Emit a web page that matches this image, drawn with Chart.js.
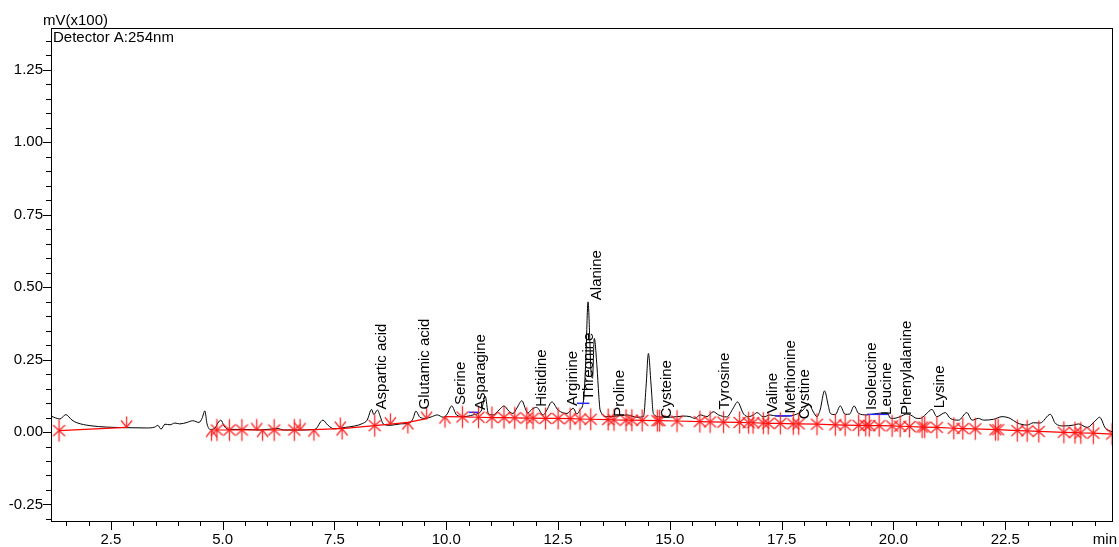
<!DOCTYPE html>
<html><head><meta charset="utf-8">
<script src="https://cdn.jsdelivr.net/npm/chart.js@4.4.1/dist/chart.umd.min.js"></script>
<style>html,body{margin:0;padding:0;background:#fff;}#wrap{width:1119px;height:547px;position:relative;}</style>
</head><body><div id="wrap"><canvas id="c" width="1119" height="547"></canvas></div>
<script>
// ---- data ----
const traceTimes = [1.16,1.36,1.49,1.63,1.74,2.03,2.41,2.86,3.30,3.48,3.55,3.62,3.71,3.82,3.93,4.04,4.20,4.33,4.47,4.54,4.60,4.65,4.72,4.83,4.89,4.96,5.03,5.12,5.50,5.83,6.24,6.35,6.73,7.06,7.24,7.35,7.49,7.74,7.96,8.12,8.23,8.33,8.38,8.46,8.52,8.59,8.74,8.97,9.19,9.26,9.32,9.41,9.53,9.66,9.80,9.93,10.02,10.12,10.23,10.38,10.60,10.71,10.79,10.87,10.94,11.05,11.18,11.29,11.40,11.49,11.58,11.69,11.78,11.83,11.91,12.02,12.17,12.25,12.36,12.50,12.70,12.84,12.92,12.99,13.07,13.12,13.17,13.21,13.23,13.27,13.31,13.37,13.41,13.44,13.59,13.81,14.04,14.26,14.41,14.47,14.52,14.58,14.63,14.78,15.01,15.30,15.45,15.56,15.68,15.83,15.97,16.09,16.27,16.42,16.51,16.65,16.76,16.87,16.95,17.09,17.24,17.39,17.62,17.84,17.98,18.10,18.21,18.29,18.36,18.46,18.54,18.59,18.70,18.81,18.92,19.02,19.12,19.22,19.41,19.63,19.86,19.93,20.00,20.15,20.30,20.38,20.53,20.60,20.73,20.86,20.97,21.16,21.27,21.46,21.64,21.76,21.90,22.02,22.24,22.43,22.61,22.76,22.99,23.13,23.28,23.51,23.62,23.81,24.03,24.14,24.33,24.51,24.61,24.74,24.89];
const traceValues = [0.055,0.045,0.060,0.041,0.032,0.022,0.017,0.015,0.014,0.017,0.023,0.010,0.027,0.025,0.031,0.028,0.033,0.039,0.033,0.048,0.073,0.028,0.009,0.014,0.031,0.041,0.021,0.009,0.009,0.007,0.012,0.007,0.007,0.009,0.041,0.024,0.011,0.016,0.021,0.029,0.041,0.078,0.060,0.076,0.055,0.028,0.023,0.028,0.032,0.048,0.072,0.051,0.047,0.052,0.059,0.051,0.062,0.090,0.059,0.053,0.059,0.064,0.076,0.124,0.064,0.059,0.076,0.090,0.072,0.064,0.083,0.108,0.076,0.066,0.078,0.085,0.059,0.076,0.104,0.076,0.064,0.082,0.062,0.076,0.110,0.248,0.449,0.317,0.225,0.186,0.323,0.225,0.128,0.076,0.053,0.055,0.059,0.051,0.053,0.162,0.271,0.162,0.064,0.052,0.051,0.055,0.053,0.047,0.059,0.053,0.070,0.059,0.052,0.083,0.104,0.062,0.053,0.059,0.067,0.052,0.059,0.055,0.055,0.062,0.076,0.098,0.069,0.053,0.076,0.142,0.093,0.064,0.060,0.090,0.061,0.062,0.090,0.064,0.059,0.064,0.066,0.048,0.047,0.053,0.062,0.059,0.047,0.047,0.062,0.078,0.053,0.067,0.047,0.041,0.067,0.041,0.047,0.041,0.044,0.053,0.047,0.032,0.024,0.032,0.031,0.061,0.030,0.021,0.024,0.028,0.016,0.038,0.051,0.013,0.001];

const markerTimes = [1.34,2.85,4.75,4.87,5.15,5.43,5.76,5.89,6.15,6.60,6.73,7.04,7.63,7.67,8.40,8.75,9.14,9.56,9.97,10.36,10.72,11.02,11.29,11.53,11.80,11.94,12.22,12.50,12.77,12.99,13.23,13.62,13.75,14.02,14.15,14.38,14.72,14.77,15.16,15.67,15.90,16.20,16.56,16.76,16.86,17.09,17.20,17.47,17.76,17.88,18.29,18.70,18.92,19.22,19.38,19.46,19.68,19.97,20.15,20.36,20.64,20.70,20.97,21.35,21.55,21.83,22.28,22.34,22.77,22.99,23.25,23.81,24.06,24.19,24.47,24.89];
const markerValues = [0.005,0.016,0.007,0.007,0.007,0.007,0.007,0.007,0.007,0.007,0.007,0.008,0.012,0.012,0.022,0.027,0.033,0.046,0.053,0.052,0.051,0.050,0.050,0.049,0.048,0.048,0.047,0.047,0.046,0.045,0.044,0.043,0.042,0.041,0.041,0.040,0.039,0.039,0.038,0.036,0.035,0.034,0.033,0.032,0.032,0.031,0.030,0.030,0.028,0.028,0.027,0.025,0.024,0.023,0.023,0.022,0.022,0.021,0.020,0.019,0.017,0.017,0.016,0.013,0.012,0.011,0.008,0.008,0.005,0.004,0.002,-0.001,-0.002,-0.003,-0.004,-0.007];
const markerKinds = ['a','d','u','a','a','a','d','u','a','a','d','u','d','u','a','d','u','d','u','a','a','a','a','a','a','a','a','a','a','a','a','a','a','a','a','a','a','a','a','a','a','a','a','a','a','a','a','a','a','a','a','a','a','a','a','a','a','a','a','a','a','a','a','a','a','a','a','a','a','a','a','a','a','a','a','a'];
const baselineGapAfter = [1, 17];

const peakNames = ['Aspartic acid','Glutamic acid','Serine','Asparagine','Histidine','Arginine','Threonine','Alanine','Proline','Cysteine','Tyrosine','Valine','Methionine','Cystine','Isoleucine','Leucine','Phenylalanine','Lysine'];
const peakLabelTimes = [8.41,9.38,10.17,10.62,11.99,12.68,13.04,13.22,13.74,14.78,16.09,17.15,17.55,17.88,19.37,19.70,20.15,20.90];
const peakLabelValues = [0.078,0.078,0.093,0.076,0.087,0.090,0.110,0.455,0.053,0.047,0.078,0.064,0.064,0.044,0.076,0.059,0.059,0.082];

const integrationStart = [10.50,12.92,17.35,19.41];
const integrationEnd   = [10.72,13.20,17.73,19.89];
const integrationLevel = [0.068,0.099,0.056,0.061];

const xTickStep = 0.5, xLabelEvery = 2.5;
const yTickStep = 0.05, yLabelEvery = 0.25;

// ---- styling helpers ----
const FONT = '"Liberation Sans", Arial, sans-serif';
function makeMarker(kind){
  const c=document.createElement('canvas'); c.width=15; c.height=25;
  const g=c.getContext('2d'); g.strokeStyle='rgba(255,20,20,0.9)'; g.lineWidth=1.3; g.beginPath();
  const cx=7.5, cy=12.5;
  if(kind==='a'){ g.moveTo(cx,cy-11); g.lineTo(cx,cy+11); g.moveTo(cx-6,cy-5.5); g.lineTo(cx+6,cy+5.5); g.moveTo(cx+6,cy-5.5); g.lineTo(cx-6,cy+5.5); }
  else if(kind==='d'){ g.moveTo(cx,cy-11); g.lineTo(cx,cy); g.moveTo(cx-5.5,cy-7); g.lineTo(cx,cy); g.lineTo(cx+5.5,cy-7); }
  else { g.moveTo(cx,cy+11); g.lineTo(cx,cy); g.moveTo(cx-5.5,cy+7); g.lineTo(cx,cy); g.lineTo(cx+5.5,cy+7); }
  g.stroke(); return c;
}
const markerImgs = {a:makeMarker('a'), d:makeMarker('d'), u:makeMarker('u')};
const isMult = (v, s) => Math.abs(v/s - Math.round(v/s)) < 1e-6;

const datasets = [
  { label:'baseline', data: markerTimes.map((t,i)=>({x:t,y:markerValues[i]})),
    borderColor:'#ff0000', borderWidth:1.2, order:0,
    pointStyle: ctx => markerImgs[markerKinds[ctx.dataIndex]] || markerImgs.a, pointRadius:3,
    segment:{ borderColor: ctx => baselineGapAfter.includes(ctx.p0DataIndex) ? 'rgba(0,0,0,0)' : '#ff0000' } },
  { label:'trace', data: traceTimes.map((t,i)=>({x:t,y:traceValues[i]})),
    borderColor:'#000', borderWidth:1, pointRadius:0, cubicInterpolationMode:'monotone', order:2 }
];
integrationStart.forEach((s,i)=>{
  datasets.push({ label:'int'+i, data:[{x:s,y:integrationLevel[i]},{x:integrationEnd[i],y:integrationLevel[i]}],
    borderColor:'#2a2aff', borderWidth:1.5, pointRadius:0, order:1 });
});

const decoPlugin = {
  id:'deco',
  afterDraw(chart){
    const ctx=chart.ctx, a=chart.chartArea, xs=chart.scales.x, ys=chart.scales.y;
    ctx.save();
    ctx.strokeStyle='#000'; ctx.lineWidth=1;
    ctx.strokeRect(Math.round(a.left)+0.5, Math.round(a.top)+0.5, Math.round(a.right-a.left)-1, Math.round(a.bottom-a.top));
    ctx.beginPath();
    ys.ticks.forEach(t=>{ const p=Math.round(ys.getPixelForValue(t.value))+0.5; const L=isMult(t.value,yLabelEvery)?8:5;
      ctx.moveTo(Math.round(a.left)-L, p); ctx.lineTo(Math.round(a.left)+0.5, p); });
    xs.ticks.forEach(t=>{ const p=Math.round(xs.getPixelForValue(t.value))+0.5; const L=isMult(t.value,xLabelEvery)?9:5;
      ctx.moveTo(p, Math.round(a.bottom)+0.5); ctx.lineTo(p, Math.round(a.bottom)+L); });
    ctx.stroke();
    ctx.fillStyle='#000'; ctx.font='15px '+FONT;
    ctx.textAlign='left'; ctx.textBaseline='alphabetic';
    ctx.fillText('mV(x100)', 43, 25);
    ctx.fillText('Detector A:254nm', 53, 42);
    ctx.textAlign='right'; ctx.textBaseline='middle';
    ctx.fillText('min', 1117, 540);
    ctx.textAlign='left'; ctx.textBaseline='alphabetic';
    peakNames.forEach((n,i)=>{
      const x=xs.getPixelForValue(peakLabelTimes[i]), y=ys.getPixelForValue(peakLabelValues[i]);
      ctx.save(); ctx.translate(x+10.8, y); ctx.rotate(-Math.PI/2); ctx.fillText(n,0,0); ctx.restore();
    });
    ctx.restore();
  }
};

new Chart(document.getElementById('c'), {
  type:'line',
  data:{ datasets },
  options:{
    responsive:false, animation:false, devicePixelRatio:1,
    layout:{ padding:{ left:0, top:28, right:6, bottom:0 } },
    plugins:{ legend:{display:false}, tooltip:{enabled:false} },
    elements:{ line:{ tension:0 } },
    scales:{
      x:{ type:'linear', min:1.16, max:24.91, bounds:'ticks',
        grid:{ display:false, drawTicks:false }, border:{ display:false },
        ticks:{ stepSize:xTickStep, includeBounds:false, autoSkip:false, maxRotation:0, padding:10, color:'#000',
          font:{ size:15, family:FONT },
          callback:(v)=> isMult(v,xLabelEvery) ? Number(v).toFixed(1) : '' },
        afterFit:(s)=>{ s.height=26; s.paddingLeft=0; s.paddingRight=0; } },
      y:{ type:'linear', min:-0.307, max:1.394, bounds:'ticks',
        grid:{ display:false, drawTicks:false }, border:{ display:false },
        ticks:{ stepSize:yTickStep, includeBounds:false, autoSkip:false, padding:8, color:'#000',
          font:{ size:15, family:FONT },
          callback:(v)=> isMult(v,yLabelEvery) ? Number(v).toFixed(2) : '' },
        afterFit:(s)=>{ s.width=51; s.paddingTop=0; s.paddingBottom=0; } }
    }
  },
  plugins:[decoPlugin]
});
</script></body></html>
